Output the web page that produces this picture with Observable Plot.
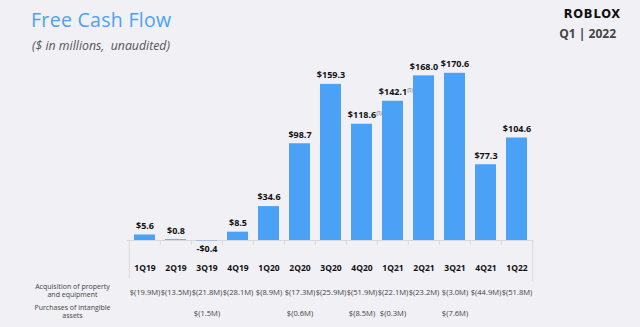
<!DOCTYPE html>
<html>
<head>
<meta charset="utf-8">
<script src="https://cdn.jsdelivr.net/npm/d3@7"></script>
<script src="https://cdn.jsdelivr.net/npm/@observablehq/plot@0.6"></script>
<style>
  html, body { margin: 0; padding: 0; background: #f0f0f5; }
  #wrap { position: relative; width: 640px; height: 327px; overflow: hidden; background: #f0f0f5; font-family: "Open Sans", sans-serif; }
  #chart { position: absolute; left: 0; top: 0; }
  .title { position: absolute; left: 31px; top: 6px; font-size: 19.5px; color: #4da2f2; font-family: "Open Sans", sans-serif; font-weight: 400; letter-spacing: 0.3px; }
  .sub { position: absolute; left: 32px; top: 37px; font-size: 12.3px; color: #555; font-style: italic; font-family: "Open Sans", sans-serif; }
  .logo { position: absolute; right: 19px; top: 7px; font-size: 11.5px; font-weight: 900; color: #111; font-family: "DejaVu Sans", sans-serif; letter-spacing: 0.8px; }
  .period { position: absolute; right: 24px; top: 25px; font-size: 12px; font-weight: 700; color: #444; font-family: "Open Sans", sans-serif; }
</style>
</head>
<body>
<div id="wrap">
  <div id="chart"></div>
  <div class="title">Free Cash Flow</div>
  <div class="sub">($ in millions,&nbsp; unaudited)</div>
  <div class="logo">ROBLOX</div>
  <div class="period">Q1 | 2022</div>
</div>
<script>
const quarters = ["1Q19","2Q19","3Q19","4Q19","1Q20","2Q20","3Q20","4Q20","1Q21","2Q21","3Q21","4Q21","1Q22"];
const fcf = [5.6, 0.8, -0.4, 8.5, 34.6, 98.7, 159.3, 118.6, 142.1, 168.0, 170.6, 77.3, 104.6];
const capex = [19.9, 13.5, 21.8, 28.1, 8.9, 17.3, 25.9, 51.9, 22.1, 23.2, 3.0, 44.9, 51.8];
const intangible = [null, null, 1.5, null, null, 0.6, null, 8.5, 0.3, null, 7.6, null, null];
const footnoted = ["4Q20", "1Q21"];
const rowLabels = ["Acquisition of property\nand equipment", "Purchases of intangible\nassets"];

const data = quarters.map((q, i) => ({q, v: fcf[i], capex: capex[i], intg: intangible[i]}));
const fmt = v => (v < 0 ? "-$" : "$") + Math.abs(v).toFixed(1);
const fmtM = v => "$(" + v.toFixed(1) + "M)";

const W = 640, H = 327, mL = 127, mR = 106;
const step = (W - mL - mR) / quarters.length;
const pad = 0.32;
const grid = "#d9d9e2";
const font = "Open Sans, sans-serif";
const pos = data.filter(d => d.v >= 0);
const neg = data.filter(d => d.v < 0);

const plot = Plot.plot({
  width: W, height: H,
  marginLeft: mL, marginRight: mR, marginTop: 44, marginBottom: 87,
  style: {background: "transparent", overflow: "visible", fontFamily: font},
  x: {type: "band", domain: quarters, paddingInner: pad, paddingOuter: pad / 2, axis: null},
  y: {domain: [0, 200], axis: null},
  marks: [
    Plot.ruleY([0], {stroke: grid, strokeWidth: 1}),
    Plot.ruleX(quarters.slice(1), {x: d => d, dx: -step / 2, y1: 0, y2: -5, stroke: grid}),
    Plot.ruleX([quarters[0]], {x: d => d, dx: -step / 2, y1: 0, y2: -39, stroke: grid}),
    Plot.ruleX([quarters[quarters.length - 1]], {x: d => d, dx: step / 2, y1: 0, y2: -42, stroke: grid}),
    Plot.barY(data, {x: "q", y: "v", fill: "#4aa1f6"}),
    Plot.text(pos, {x: "q", y: "v", text: d => fmt(d.v), dy: -9, fontWeight: 700, fontSize: 9, fill: "#111"}),
    Plot.text(neg, {x: "q", y: 0, text: d => fmt(d.v), dy: 9, fontWeight: 700, fontSize: 9, fill: "#111"}),
    Plot.text(data.filter(d => footnoted.includes(d.q)), {x: "q", y: "v", text: () => "(1)", dx: 17, dy: -11, fontSize: 4.5, fill: "#333"}),
    Plot.text(data, {x: "q", text: "q", frameAnchor: "bottom", dy: 30, fontWeight: 700, fontSize: 8.5, fill: "#111"}),
    Plot.text(data, {x: "q", text: d => fmtM(d.capex), frameAnchor: "bottom", dy: 54, fontSize: 7.6, fill: "#444"}),
    Plot.text(data.filter(d => d.intg != null), {x: "q", text: d => fmtM(d.intg), frameAnchor: "bottom", dy: 75, fontSize: 7.6, fill: "#444"}),
    Plot.text([rowLabels[0]], {text: d => d, frameAnchor: "bottom-left", dx: -55, dy: 56, textAnchor: "middle", fontSize: 7, lineHeight: 1.1, fill: "#444"}),
    Plot.text([rowLabels[1]], {text: d => d, frameAnchor: "bottom-left", dx: -55, dy: 77, textAnchor: "middle", fontSize: 7, lineHeight: 1.1, fill: "#444"})
  ]
});
document.getElementById("chart").appendChild(plot);
</script>
</body>
</html>
